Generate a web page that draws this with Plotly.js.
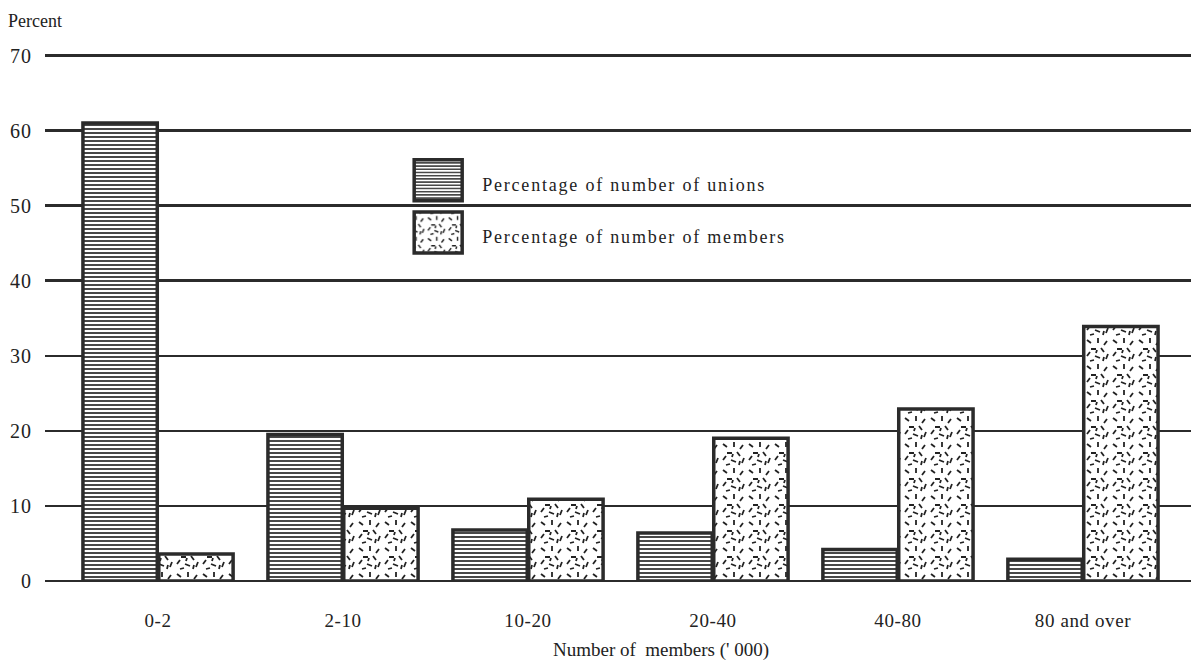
<!DOCTYPE html>
<html>
<head>
<meta charset="utf-8">
<script src="https://cdn.plot.ly/plotly-3.0.1.min.js"></script>
<style>
html,body{margin:0;padding:0;background:#fff;}
#chart{width:1191px;height:663px;}
#chart .legendtext{letter-spacing:1.8px;}
#chart .xtick text{letter-spacing:0.6px;}
#chart .ytick text{letter-spacing:1px;}
</style>
</head>
<body>
<div id="chart"></div>
<script>
const categories = ["0-2", "2-10", "10-20", "20-40", "40-80", "80 and over"];
const unionsPct = [61, 19.5, 6.8, 6.4, 4.2, 2.9];
const membersPct = [3.6, 9.7, 10.9, 19.0, 22.9, 33.9];
const yTicks = [0, 10, 20, 30, 40, 50, 60, 70];
const seriesNames = ["Percentage of number of unions", "Percentage of number of members"];

const ink = "#2b2b2b";
const serif = "Liberation Serif, Times New Roman, serif";

const traces = [
  {
    type: "bar", name: seriesNames[0], x: categories.map((c, i) => i), y: unionsPct,
    legendgroup: "a",
    marker: { color: "#ffffff", line: { color: ink, width: 3.5 },
      pattern: { shape: "-", fgcolor: "#333", bgcolor: "#ffffff", size: 4, solidity: 0.45 } },
    hoverinfo: "y"
  },
  {
    type: "bar", name: seriesNames[1], x: categories.map((c, i) => i), y: membersPct,
    legendgroup: "b",
    marker: { color: "#ffffff", line: { color: ink, width: 3.5 },
      pattern: { shape: ".", fgcolor: "#333", bgcolor: "#ffffff", size: 9, solidity: 0.3 } },
    hoverinfo: "y"
  }
];

const layout = {
  width: 1191, height: 663,
  paper_bgcolor: "#ffffff", plot_bgcolor: "#ffffff",
  margin: { l: 45, r: 0, t: 51, b: 82 },
  font: { family: serif, color: "#222", size: 16 },
  barmode: "group", bargap: 0.18, bargroupgap: 0.02,
  showlegend: true,
  legend: {
    x: 0.3204, y: 0.784, xanchor: "left", yanchor: "top",
    bgcolor: "rgba(255,255,255,0)", borderwidth: 0,
    font: { family: serif, size: 18, color: "#222" },
    traceorder: "grouped", tracegroupgap: 26, itemwidth: 60
  },
  xaxis: {
    tickmode: "array", tickvals: categories.map((c, i) => i), ticktext: categories,
    range: [-0.611, 5.584], showgrid: false, zeroline: false, showline: false,
    ticks: "", ticklabelstandoff: 26, tickfont: { size: 19, family: serif }
  },
  yaxis: {
    range: [0, 70.6], tickmode: "array", tickvals: yTicks,
    showgrid: true, gridcolor: ink, gridwidth: 2.5,
    zeroline: true, zerolinecolor: ink, zerolinewidth: 2.5,
    showline: false, ticks: "", ticklabelstandoff: 12,
    tickfont: { size: 20, family: serif }
  },
  annotations: [
    { text: "Percent", xref: "paper", yref: "paper", x: 0, y: 1, xanchor: "left", yanchor: "bottom",
      xshift: -39, yshift: 18, showarrow: false, font: { size: 18, family: serif, color: "#222" } },
    { text: "Number of  members (' 000)", xref: "paper", yref: "paper", x: 0.5375, y: 0,
      xanchor: "center", yanchor: "middle", yshift: -69, showarrow: false,
      font: { size: 19, family: serif, color: "#222" } }
  ]
};

Plotly.newPlot("chart", traces, layout, { displayModeBar: false, staticPlot: true }).then(function (gd) {
  // speckled dash texture for the members series
  const ns = "http://www.w3.org/2000/svg";
  gd.querySelectorAll("pattern").forEach(function (p) {
    if (!p.querySelector("circle")) return;
    p.setAttribute("width", "26");
    p.setAttribute("height", "26");
    while (p.firstChild) p.removeChild(p.firstChild);
    const bg = document.createElementNS(ns, "rect");
    bg.setAttribute("width", "26"); bg.setAttribute("height", "26"); bg.setAttribute("fill", "#ffffff");
    p.appendChild(bg);
    const d = document.createElementNS(ns, "path");
    d.setAttribute("d", "M2,3l4,3M13,1l0,5M22,4l-3,4M6,12l5,0M16,11l3,4M2,19l3,-4M10,19l5,2M23,17l-2,5M5,24l4,-1M18,24l1,-4M12,13l-1,3");
    d.setAttribute("stroke", "#222"); d.setAttribute("stroke-width", "1.8"); d.setAttribute("fill", "none");
    p.appendChild(d);
  });
  // larger legend swatches, no clipping of spaced legend text
  gd.querySelectorAll(".legendpoints path").forEach(function (el) {
    el.setAttribute("d", "M15,17H-33V-24H15Z");
    el.style.strokeWidth = "3.5px";
  });
  gd.querySelectorAll(".legend [clip-path], .legend").forEach(function (el) {
    el.removeAttribute("clip-path");
  });
});
</script>
</body>
</html>
